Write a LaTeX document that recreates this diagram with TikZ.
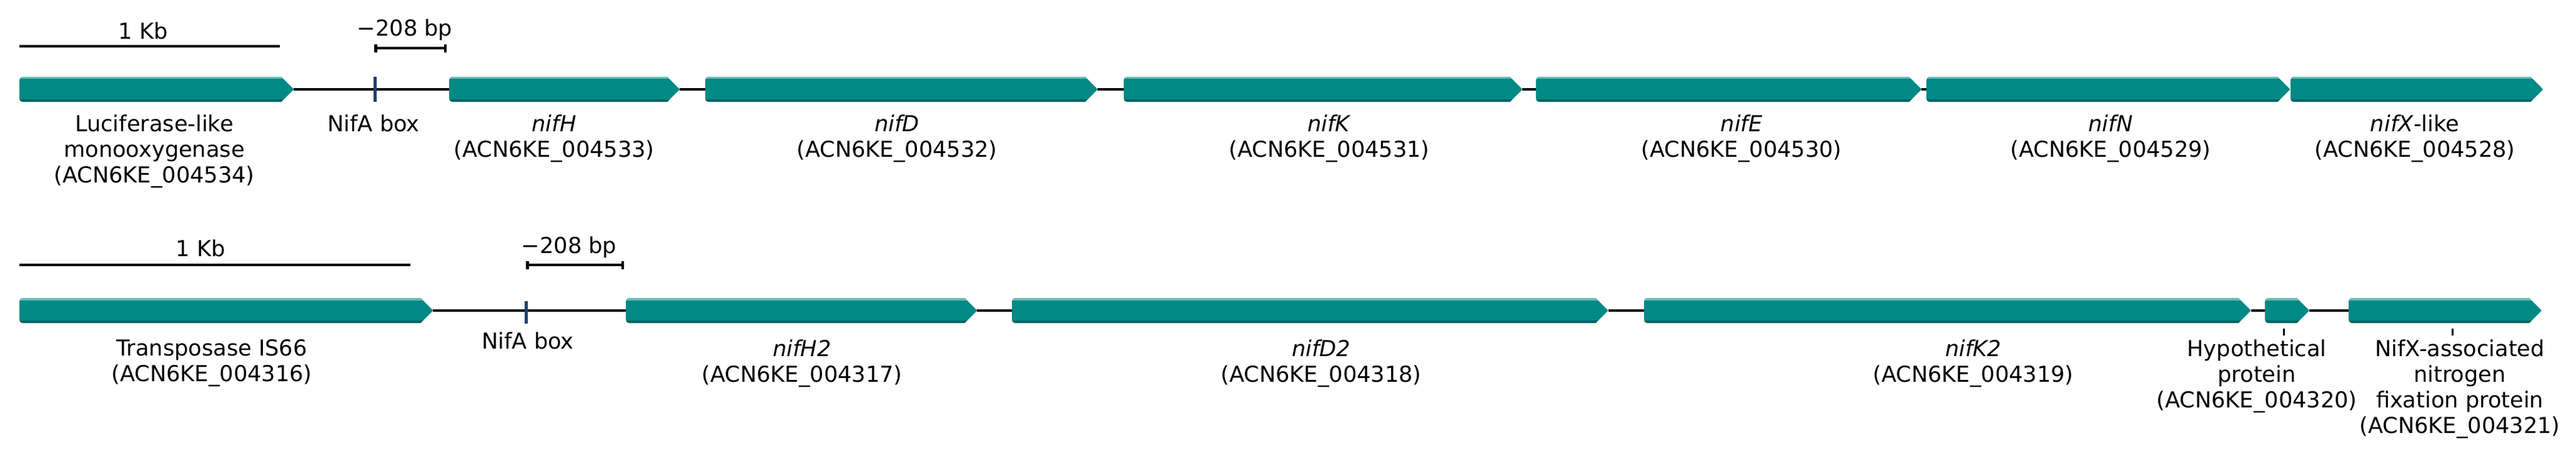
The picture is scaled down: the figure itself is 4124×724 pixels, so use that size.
\documentclass[tikz,border=0pt]{standalone}
\usepackage{fontspec}
\setmainfont{DejaVu Sans}
\usetikzlibrary{arrows.meta}
\usetikzlibrary{positioning}
\definecolor{genefill}{RGB}{0,137,133}
\definecolor{genetop}{RGB}{104,186,182}
\definecolor{genebot}{RGB}{0,102,98}
\definecolor{boxblue}{RGB}{31,64,110}

\begin{document}
\begin{tikzpicture}[x=0.01cm, y=-0.01cm]
			\tikzset{gene/.style={minimum height=0.4cm, inner sep=0pt, outer sep=0pt, anchor=west,
					path picture={
						\path[clip] (path picture bounding box.south) -- ([xshift=-0.2cm]path picture bounding box.south east) -- (path picture bounding box.east) -- ([xshift=-0.2cm]path picture bounding box.north east) [rounded corners=1.5pt] -- (path picture bounding box.north west) -- (path picture bounding box.south west) -- cycle;
						\fill[genefill] (path picture bounding box.south west) rectangle (path picture bounding box.north east);
						\draw[genetop, line width=0.07cm] (path picture bounding box.north west) -- (path picture bounding box.north east);
						\draw[genebot, line width=0.08cm] (path picture bounding box.south west) -- (path picture bounding box.south east);}}}
			\tikzset{backbone/.style={draw=black, line width=0.04cm}}
			\tikzset{nifabox/.style={fill=boxblue, minimum width=0.05cm, inner sep=0pt}}
			\tikzset{lab/.style={anchor=north, align=center, inner sep=0pt, font=\fontsize{10}{11.7}\selectfont}}
			\tikzset{scalelab/.style={anchor=base, inner sep=0pt, font=\fontsize{10}{11.7}\selectfont}}
			\tikzset{scalebar/.style={line width=0.045cm}}
			\tikzset{leader/.style={line width=0.03cm}}
			\useasboundingbox (0,0) rectangle (4124,724);
			%scale bars
			\node[scalelab] (kbA) at (229,62) {1 Kb};
			\node[scalelab] (bpA) at (648,57) {−208 bp};
			\node[scalelab] (kbB) at (321,410) {1 Kb};
			\node[scalelab] (bpB) at (911,405) {−208 bp};
			\coordinate (kbAl) at (31,74);
			\coordinate (kbAr) at (448,74);
			\coordinate (bpAl) at (599,77);
			\coordinate (bpAr) at (715,77);
			\coordinate (kbBl) at (31,424);
			\coordinate (kbBr) at (657,424);
			\coordinate (bpBl) at (842,424);
			\coordinate (bpBr) at (999,424);
			\draw[scalebar] (kbAl) -- (kbAr);
			\draw[scalebar, {Bar[width=0.13cm]}-{Bar[width=0.13cm]}] (bpAl) -- (bpAr);
			\draw[scalebar] (kbBl) -- (kbBr);
			\draw[scalebar, {Bar[width=0.13cm]}-{Bar[width=0.13cm]}] (bpBl) -- (bpBr);
			%genes, first cluster
			\node[gene, minimum width=4.39cm] (luc) at (31,143) {};
			\node[gene, minimum width=3.69cm] (nifH) at (719,143) {};
			\node[gene, minimum width=6.28cm] (nifD) at (1129,143) {};
			\node[gene, minimum width=6.38cm] (nifK) at (1799,143) {};
			\node[gene, minimum width=6.17cm] (nifE) at (2459,143) {};
			\node[gene, minimum width=5.82cm] (nifN) at (3084,143) {};
			\node[gene, minimum width=4.04cm] (nifX) at (3667,143) {};
			%genes, second cluster
			\node[gene, minimum width=6.62cm] (tnp) at (31,497) {};
			\node[gene, minimum width=5.62cm] (nifHb) at (1002,497) {};
			\node[gene, minimum width=9.54cm] (nifDb) at (1620,497) {};
			\node[gene, minimum width=9.71cm] (nifKb) at (2632,497) {};
			\node[gene, minimum width=0.71cm] (hyp) at (3626,497) {};
			\node[gene, minimum width=3.09cm] (nifXa) at (3760,497) {};
			%edges
			\path (luc) edge[backbone] (nifH);
			\path (nifH) edge[backbone] (nifD);
			\path (nifD) edge[backbone] (nifK);
			\path (nifK) edge[backbone] (nifE);
			\path (nifE) edge[backbone] (nifN);
			\path (tnp) edge[backbone] (nifHb);
			\path (nifHb) edge[backbone] (nifDb);
			\path (nifDb) edge[backbone] (nifKb);
			\path (nifKb) edge[backbone] (hyp);
			\path (hyp) edge[backbone] (nifXa);
			%NifA boxes
			\node[nifabox, minimum height=0.39cm] (boxA) at (600,143) {};
			\node[nifabox, minimum height=0.36cm] (boxB) at (842,500) {};
			%labels
			\node[lab] (lucLab) at (247,183) {Luciferase-like\\monooxygenase\\(ACN6KE\_004534)};
			\node[lab] (boxALab) at (598,183) {NifA box};
			\node[lab] (nifHLab) at (887,183) {\textit{nifH}\\(ACN6KE\_004533)};
			\node[lab] (nifDLab) at (1436,183) {\textit{nifD}\\(ACN6KE\_004532)};
			\node[lab] (nifKLab) at (2128,183) {\textit{nifK}\\(ACN6KE\_004531)};
			\node[lab] (nifELab) at (2788,183) {\textit{nifE}\\(ACN6KE\_004530)};
			\node[lab] (nifNLab) at (3379,183) {\textit{nifN}\\(ACN6KE\_004529)};
			\node[lab] (nifXLab) at (3866,183) {\textit{nifX}-like\\(ACN6KE\_004528)};
			\node[lab] (tnpLab) at (339,543) {Transposase IS66\\(ACN6KE\_004316)};
			\node[lab] (boxBLab) at (845,531) {NifA box};
			\node[lab] (nifHbLab) at (1284,543) {\textit{nifH2}\\(ACN6KE\_004317)};
			\node[lab] (nifDbLab) at (2115,543) {\textit{nifD2}\\(ACN6KE\_004318)};
			\node[lab] (nifKbLab) at (3159,543) {\textit{nifK2}\\(ACN6KE\_004319)};
			\node[lab] (hypLab) at (3613,543) {Hypothetical\\protein\\(ACN6KE\_004320)};
			\node[lab] (nifXaLab) at (3938,543) {NifX-associated\\nitrogen\\fixation protein\\(ACN6KE\_004321)};
			\draw[leader] ([xshift=-0.055cm, yshift=-0.09cm]hyp.south) -- ++(0,11);
			\draw[leader] ([xshift=0.115cm, yshift=-0.09cm]nifXa.south) -- ++(0,11);
\end{tikzpicture}
\end{document}
